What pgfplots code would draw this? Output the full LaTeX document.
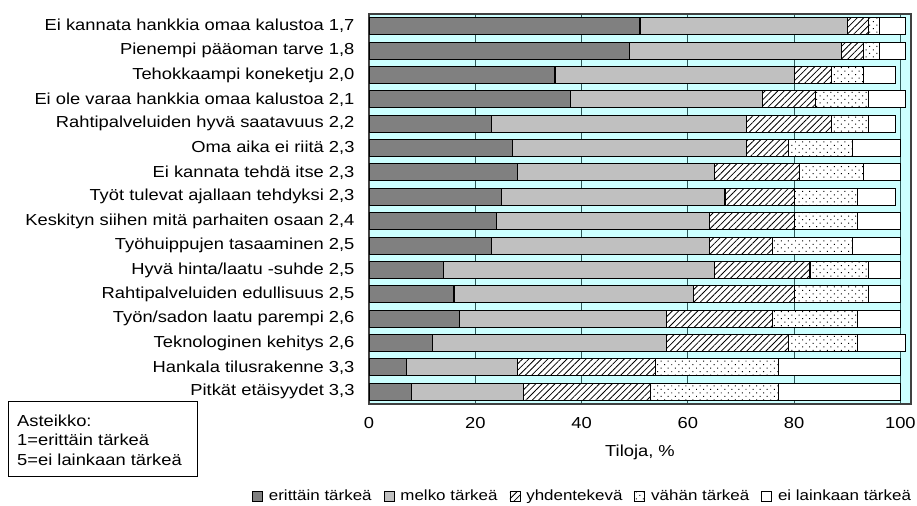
\documentclass[border=0pt]{standalone}
\usepackage{fontspec}
\setmainfont{Liberation Sans}[FakeStretch=1.15]
\usepackage{pgfplots}
\usepackage{pgfplotstable}
\pgfplotsset{compat=1.18}
\usetikzlibrary{patterns.meta}

\definecolor{bgcyan}{HTML}{CCFFFF}
\definecolor{gridc}{HTML}{2F5A5A}
\definecolor{dgray}{HTML}{808080}
\definecolor{lgray}{HTML}{C0C0C0}

% pos: 1 = top bar; a..e = erittäin, melko, yhdentekevä, vähän, ei lainkaan
\pgfplotstableread{
pos a b c d e
1 51 39 4 2 5
2 49 40 4 3 5
3 35 45 7 6 6
4 38 36 10 10 7
5 23 48 16 7 5
6 27 44 8 12 9
7 28 37 16 12 7
8 25 42 13 12 7
9 24 40 16 12 8
10 23 41 12 15 9
11 14 51 18 11 6
12 16 45 19 14 6
13 17 39 20 16 8
14 12 44 23 13 9
15 7 21 26 23 23
16 8 21 24 24 23
}\tilat

\begin{document}
\begin{tikzpicture}
\useasboundingbox (0,0) rectangle (917bp,506bp);
\begin{axis}[
  at={(369bp,102bp)}, anchor=south west,
  scale only axis, width=542bp, height=390bp,
  xbar stacked, bar width=17bp,
  xmin=0, xmax=102, ymin=0.5, ymax=16.5, y dir=reverse,
  axis background/.style={fill=bgcyan},
  axis line style={black!75, line width=1.2bp},
  xtick={0,20,...,100}, ytick={1,...,16},
  yticklabels={{Ei kannata hankkia omaa kalustoa 1,7},
    {Pienempi pääoman tarve 1,8},
    {Tehokkaampi koneketju 2,0},
    {Ei ole varaa hankkia omaa kalustoa 2,1},
    {Rahtipalveluiden hyvä saatavuus 2,2},
    {Oma aika ei riitä 2,3},
    {Ei kannata tehdä itse 2,3},
    {Työt tulevat ajallaan tehdyksi 2,3},
    {Keskityn siihen mitä parhaiten osaan 2,4},
    {Työhuippujen tasaaminen 2,5},
    {Hyvä hinta/laatu -suhde 2,5},
    {Rahtipalveluiden edullisuus 2,5},
    {Työn/sadon laatu parempi 2,6},
    {Teknologinen kehitys 2,6},
    {Hankala tilusrakenne 3,3},
    {Pitkät etäisyydet 3,3}},
  tick style={draw=none},
  xmajorgrids, major grid style={gridc, line width=1bp},
  /pgf/number format/assume math mode=true,
  tick label style={font=\fontsize{16}{19}\selectfont},
  yticklabel style={xshift=-11bp},
  xticklabel style={yshift=-10bp},
  xlabel={Tiloja, \%},
  xlabel style={font=\fontsize{16}{19}\selectfont, at={(axis description cs:0.5,-0.125)}, anchor=center},
  every axis plot/.append style={draw=black, line width=1.1bp},
  legend columns=5,
  legend style={draw=none, fill=none, at={(axis description cs:1.004,-0.236)}, anchor=east,
    font=\fontsize{14.8}{18}\selectfont, inner sep=0pt,
    /tikz/every odd column/.append style={column sep=4bp},
    /tikz/every even column/.append style={column sep=10bp}},
  legend image code/.code={\draw[#1, line width=0.8bp] (0bp,-5bp) rectangle (10bp,5bp);},
]
\addplot[fill=dgray] table[x=a, y=pos]{\tilat};
\addlegendentry{erittäin tärkeä}
\addplot[fill=lgray] table[x=b, y=pos]{\tilat};
\addlegendentry{melko tärkeä}
\addplot[fill=white, postaction={pattern={Lines[angle=45, distance=4.5bp, line width=0.8bp]}}] table[x=c, y=pos]{\tilat};
\addlegendentry{yhdentekevä}
\addplot[fill=white, postaction={pattern={Dots[angle=45, distance=5bp, radius=0.7bp]}}] table[x=d, y=pos]{\tilat};
\addlegendentry{vähän tärkeä}
\addplot[fill=white] table[x=e, y=pos]{\tilat};
\addlegendentry{ei lainkaan tärkeä}
\end{axis}
\draw[line width=1bp] (8bp,29bp) rectangle (197bp,104bp);
\begin{scope}[font=\fontsize{16}{19}\selectfont]
\node[anchor=west, inner sep=0pt] at (17bp,85bp) {Asteikko:};
\node[anchor=west, inner sep=0pt] at (17bp,66bp) {1=erittäin tärkeä};
\node[anchor=west, inner sep=0pt] at (17bp,46bp) {5=ei lainkaan tärkeä};
\end{scope}
\end{tikzpicture}
\end{document}
